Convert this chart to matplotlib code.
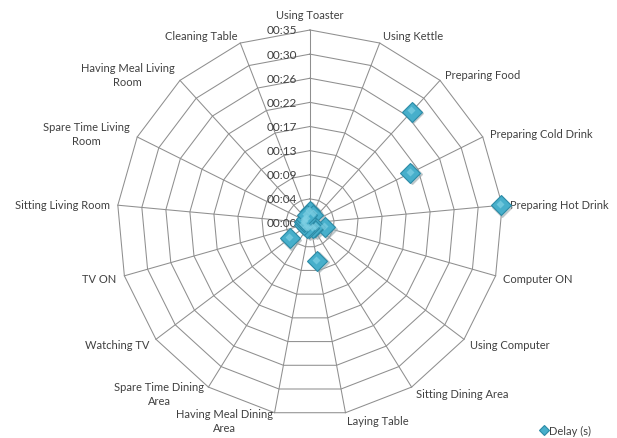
import numpy as np
import matplotlib
matplotlib.use("Agg")
import matplotlib.pyplot as plt

plt.rcParams['font.family'] = ['Lato', 'DejaVu Sans']

categories = ['Using Toaster', 'Using Kettle', 'Preparing Food', 'Preparing Cold Drink',
              'Preparing Hot Drink', 'Computer ON', 'Using Computer', 'Sitting Dining Area',
              'Laying Table', 'Having Meal Dining\nArea', 'Spare Time Dining\nArea', 'Watching TV',
              'TV ON', 'Sitting Living Room', 'Spare Time Living\nRoom', 'Having Meal Living\nRoom',
              'Cleaning Table']
# delay in seconds
delay = [2.2, 1.6, 27.0, 20.1, 34.3, 2.8, 1.2, 1.0, 6.9, 1.0, 1.0, 4.6, 1.2, 1.0, 1.0, 1.0, 1.5]
# Excel time axis: step 0.00005 day = 4.32 s
tick_vals = [4.32 * k for k in range(9)]
tick_labels = ['00:00', '00:04', '00:09', '00:13', '00:17', '00:22', '00:26', '00:30', '00:35']

W, H = 617, 439
cx, cy = 310, 224          # centre in pixels (from top)
R = 193.0                  # outer radius in pixels
rmax = tick_vals[-1]
s = R / rmax               # pixels per second

fig = plt.figure(figsize=(W / 100, H / 100), dpi=100)
ax = fig.add_axes([0, 0, 1, 1])
ax.set_xlim(-cx / s, (W - cx) / s)
ax.set_ylim(-(H - cy) / s, cy / s)
ax.axis('off')

n = len(categories)
theta = 2 * np.pi * np.arange(n) / n
sx, cy_ = np.sin(theta), np.cos(theta)

grid_col = '#8f8f8f'
# polygon rings
for v in tick_vals[1:]:
    xs = np.append(v * sx, v * sx[0])
    ys = np.append(v * cy_, v * cy_[0])
    ax.plot(xs, ys, color=grid_col, lw=0.75, zorder=1)
# spokes
for a, b in zip(sx, cy_):
    ax.plot([0, rmax * a], [0, rmax * b], color=grid_col, lw=0.75, zorder=1)

txt_col = '#404040'
# radial tick labels along the top spoke
for v, lab in zip(tick_vals, tick_labels):
    ax.text(-13 / s, v, lab, ha='right', va='center', fontsize=8.5, color=txt_col, zorder=2)

# category labels
off = 8 / s
for i, lab in enumerate(categories):
    a, b = sx[i], cy_[i]
    x = rmax * a + off * a
    y = rmax * b + off * b
    if i == 0:
        ax.text(x, y + 2 / s, lab, ha='center', va='bottom', fontsize=8, color=txt_col)
        continue
    ha = 'left' if a > 0.05 else ('right' if a < -0.05 else 'center')
    ax.text(x, y, lab, ha=ha, va='center', fontsize=8, color=txt_col,
            multialignment='center', linespacing=1.35)

# markers with a little shadow to mimic the bevelled Excel look
vx = np.array(delay) * sx
vy = np.array(delay) * cy_
ax.plot(vx + 1.5 / s, vy - 1.5 / s, ls='none', marker='D', ms=10, color='#9aa8ad',
        alpha=0.5, zorder=3)
line, = ax.plot(vx, vy, ls='none', marker='D', ms=10, mfc='#47AFCB', mec='#2C8BA6',
                mew=0.8, zorder=4, label='Delay (s)')
ax.plot(vx - 0.6 / s, vy + 1.2 / s, ls='none', marker='D', ms=4, mfc='#7fd0e4',
        mec='none', alpha=0.7, zorder=5)

leg = ax.legend(handles=[line], loc='center left', bbox_to_anchor=(535 / W, 1 - 431 / H),
                bbox_transform=fig.transFigure, frameon=False, fontsize=8,
                markerscale=0.55, handlelength=0.6, handletextpad=0.15, borderpad=0)
for t in leg.get_texts():
    t.set_color(txt_col)

fig.savefig('out.png', dpi=100)
